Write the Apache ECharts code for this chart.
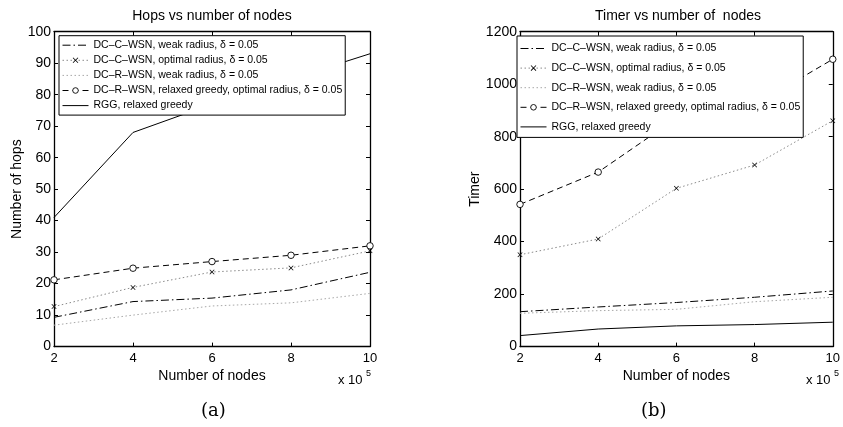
<!DOCTYPE html>
<html>
<head>
<meta charset="utf-8">
<script src="https://cdn.jsdelivr.net/npm/echarts@6/dist/echarts.min.js"></script>
<style>html,body{margin:0;padding:0;background:#fff}#c{width:843px;height:427px}</style>
</head>
<body>
<div id="c"></div>
<script>
// ---- data ----
var xNodes = [2, 4, 6, 8, 10];
var seriesNames = [
  'DC–C–WSN, weak radius, δ = 0.05',
  'DC–C–WSN, optimal radius, δ = 0.05',
  'DC–R–WSN, weak radius, δ = 0.05',
  'DC–R–WSN, relaxed greedy, optimal radius, δ = 0.05',
  'RGG, relaxed greedy'
];
var hopsDccWeak    = [9.3, 14.3, 15.4, 18, 23.6];
var hopsDccOpt     = [12.7, 18.8, 23.7, 25, 30.4];
var hopsDcrWeak    = [6.8, 10, 12.9, 13.9, 16.9];
var hopsDcrRelaxed = [21.2, 24.9, 27, 29, 32];
var hopsRgg        = [41, 68, 77, 85, 93];

var timerDccWeak    = [133, 151, 168, 188, 212];
var timerDccOpt     = [350, 410, 603, 692, 861];
var timerDcrWeak    = [127, 137, 142, 171, 188];
var timerDcrRelaxed = [542, 665, 870, 920, 1095];
var timerRgg        = [42, 67, 79, 84, 93];

// ---- styles ----
var FONT = 'Liberation Sans, Arial, Helvetica, sans-serif';
var xMark = 'path://M0,1L1,0L5,4L9,0L10,1L6,5L10,9L9,10L5,6L1,10L0,9L4,5Z';
var styles = [
  {line: {color: '#000', width: 1, type: [8, 3, 1.5, 3]}, symbol: 'none', fill: '#000'},
  {line: {color: '#8a8a8a', width: 1, type: [1.5, 2.5]}, symbol: xMark, size: 5, fill: '#000'},
  {line: {color: '#a8a8a8', width: 1, type: [1.5, 2.5]}, symbol: 'none', fill: '#000'},
  {line: {color: '#000', width: 1, type: [6, 4]}, symbol: 'circle', size: 6.5, fill: '#fff'},
  {line: {color: '#000', width: 1, type: 'solid'}, symbol: 'none', fill: '#000'}
];

function pairs(vals) { return xNodes.map(function (x, i) { return [x, vals[i]]; }); }
function mk(idx, vals, axisIdx) {
  var s = styles[idx];
  return {
    type: 'line', name: seriesNames[idx], xAxisIndex: axisIdx, yAxisIndex: axisIdx,
    data: pairs(vals),
    symbol: s.symbol, symbolSize: s.size || 4, showSymbol: s.symbol !== 'none',
    lineStyle: s.line,
    itemStyle: {color: s.fill, borderColor: '#000', borderWidth: s.fill === '#fff' ? 0.9 : 0},
    emphasis: {disabled: true}, animation: false, z: 2
  };
}

function xAx(grid, pos, show, gap) {
  return {
    type: 'value', gridIndex: grid, position: pos, min: 2, max: 10, interval: 2,
    name: show ? 'Number of nodes' : '', nameLocation: 'middle', nameGap: gap || 16,
    nameTextStyle: {fontFamily: FONT, fontSize: 14, color: '#000'},
    axisLine: {show: true, onZero: false, lineStyle: {color: '#000', width: 1.3}},
    axisTick: {show: true, inside: true, length: 4, lineStyle: {color: '#000'}},
    axisLabel: {show: show, margin: 5, fontFamily: FONT, fontSize: 13, color: '#000'},
    splitLine: {show: false}
  };
}
function yAx(grid, pos, show, max, interval, name, gap) {
  return {
    type: 'value', gridIndex: grid, position: pos, min: 0, max: max, interval: interval,
    name: show ? name : '', nameLocation: 'middle', nameGap: gap,
    nameTextStyle: {fontFamily: FONT, fontSize: 14, color: '#000'},
    axisLine: {show: true, onZero: false, lineStyle: {color: '#000', width: 1.3}},
    axisTick: {show: true, inside: true, length: 4, lineStyle: {color: '#000'}},
    axisLabel: {show: show, margin: 3, fontFamily: FONT, fontSize: 14, color: '#000',
                formatter: function (v) { return String(v); }},
    splitLine: {show: false}
  };
}

function legendData() {
  return seriesNames.map(function (n, i) {
    if (styles[i].symbol === 'none') {
      return {name: n, itemStyle: {color: 'rgba(0,0,0,0)', borderColor: 'rgba(0,0,0,0)', borderWidth: 0, opacity: 0}};
    }
    if (styles[i].fill === '#fff') {
      return {name: n, itemStyle: {color: '#fff', borderColor: '#000', borderWidth: 0.9}};
    }
    return {name: n};
  });
}
function legend(left, top, gap, pad) {
  return {
    show: true, orient: 'vertical', left: left, top: top,
    data: legendData(), itemWidth: 26, itemHeight: 7, itemGap: gap,
    padding: pad, backgroundColor: '#fff', borderColor: '#000', borderWidth: 1,
    selectedMode: false, z: 10,
    lineStyle: {width: 1},
    textStyle: {fontFamily: FONT, fontSize: 10.5, color: '#000'}
  };
}

var chart = echarts.init(document.getElementById('c'), null, {renderer: 'canvas'});
chart.setOption({
  backgroundColor: '#fff',
  animation: false,
  title: [
    {text: 'Hops vs number of nodes', left: 212, top: 9, textAlign: 'center', padding: 0,
     textStyle: {fontFamily: FONT, fontSize: 14, fontWeight: 'normal', color: '#000'}},
    {text: 'Timer vs number of  nodes', left: 678, top: 9, textAlign: 'center', padding: 0,
     textStyle: {fontFamily: FONT, fontSize: 14, fontWeight: 'normal', color: '#000'}}
  ],
  grid: [
    {left: 54, right: 473, top: 31.7, bottom: 80.4, containLabel: false},
    {left: 520, right: 7, top: 31.7, bottom: 80.4, containLabel: false}
  ],
  xAxis: [xAx(0, 'bottom', true, 16), xAx(1, 'bottom', true, 19), xAx(0, 'top', false), xAx(1, 'top', false)],
  yAxis: [yAx(0, 'left', true, 100, 10, 'Number of hops', 30), yAx(1, 'left', true, 1200, 200, 'Timer', 38),
          yAx(0, 'right', false, 100, 10, '', 0), yAx(1, 'right', false, 1200, 200, '', 0)],
  legend: [legend(59, 35.7, 4.1, [4, 3, 4, 3]), legend(517, 36, 8.6, [7, 3, 5, 3])],
  series: [
    mk(0, hopsDccWeak, 0), mk(1, hopsDccOpt, 0), mk(2, hopsDcrWeak, 0), mk(3, hopsDcrRelaxed, 0), mk(4, hopsRgg, 0),
    mk(0, timerDccWeak, 1), mk(1, timerDccOpt, 1), mk(2, timerDcrWeak, 1), mk(3, timerDcrRelaxed, 1), mk(4, timerRgg, 1)
  ],
  graphic: [
    {type: 'text', left: 338, top: 374, style: {text: 'x 10', font: '13px ' + FONT, fill: '#000'}},
    {type: 'text', left: 366, top: 369, style: {text: '5', font: '9px ' + FONT, fill: '#000'}},
    {type: 'text', left: 806, top: 374, style: {text: 'x 10', font: '13px ' + FONT, fill: '#000'}},
    {type: 'text', left: 834, top: 369, style: {text: '5', font: '9px ' + FONT, fill: '#000'}},
    {type: 'text', left: 201, top: 402, style: {text: '(a)', font: '18px "DejaVu Serif", "Liberation Serif", serif', fill: '#000'}},
    {type: 'text', left: 641, top: 402, style: {text: '(b)', font: '18px "DejaVu Serif", "Liberation Serif", serif', fill: '#000'}}
  ]
});
</script>
</body>
</html>
